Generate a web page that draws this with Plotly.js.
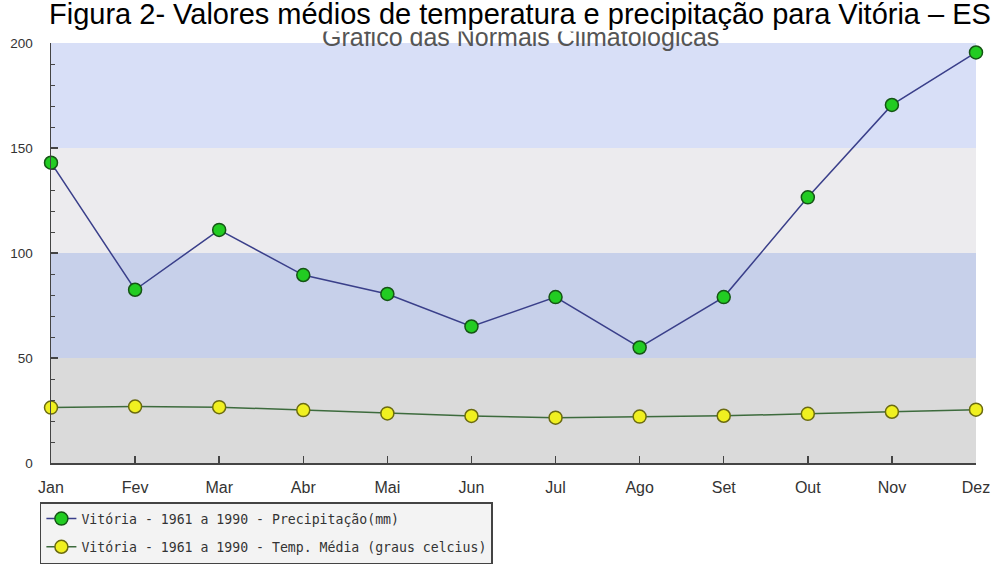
<!DOCTYPE html>
<html>
<head>
<meta charset="utf-8">
<script src="https://cdn.plot.ly/plotly-3.0.1.min.js"></script>
<style>html,body{margin:0;padding:0;background:#fff;}#chart{width:995px;height:565px;}</style>
</head>
<body>
<div id="chart"></div>
<script>
const months = ["Jan","Fev","Mar","Abr","Mai","Jun","Jul","Ago","Set","Out","Nov","Dez"];
const precipitacao = [143, 82.5, 111, 89.5, 80.5, 65, 79, 55, 79, 126.5, 170.5, 195.5];
const temperatura = [26.4, 26.9, 26.6, 25.2, 23.6, 22.4, 21.6, 22.1, 22.5, 23.4, 24.4, 25.4];
const seriesNames = [
  "Vitória - 1961 a 1990 - Precipitação(mm)",
  "Vitória - 1961 a 1990 - Temp. Média (graus celcius)"
];
const bandEdges = [0, 50, 100, 150, 200];
const bandColors = ["#dadada", "#c7d0ea", "#ecebee", "#d8dff7"];
const titleText = "Figura 2- Valores médios de temperatura e precipitação para Vitória – ES";
const subtitleText = "Gráfico das Normais Climatológicas";

const traces = [
  {
    x: months, y: precipitacao, type: "scatter", mode: "lines+markers",
    name: seriesNames[0], legendgroup: "a", cliponaxis: false,
    line: {color: "#3a3f8a", width: 1.5},
    marker: {symbol: "circle", size: 13, color: "#22cc22", line: {color: "#155515", width: 1.5}}
  },
  {
    x: months, y: temperatura, type: "scatter", mode: "lines+markers",
    name: seriesNames[1], legendgroup: "b", cliponaxis: false,
    line: {color: "#3d6b3d", width: 1.5},
    marker: {symbol: "circle", size: 13, color: "#f0f020", line: {color: "#6b6b10", width: 1.5}}
  }
];

const shapes = [];
for (let i = 0; i < bandColors.length; i++) {
  shapes.push({type: "rect", xref: "paper", yref: "y", x0: 0, x1: 1,
    y0: bandEdges[i], y1: bandEdges[i + 1], fillcolor: bandColors[i],
    line: {width: 0}, layer: "below"});
}

const layout = {
  width: 995, height: 565,
  margin: {l: 51, r: 19, t: 43, b: 102, pad: 0, autoexpand: false},
  paper_bgcolor: "#ffffff", plot_bgcolor: "rgba(0,0,0,0)",
  showlegend: true,
  font: {family: "Liberation Sans, Arial, sans-serif", color: "#333"},
  xaxis: {
    type: "category", range: [0, 11], showgrid: false, zeroline: false,
    showline: true, linecolor: "#444", linewidth: 1.5,
    ticks: "inside", ticklen: 7, tickcolor: "#444", tickwidth: 1.5,
    ticklabelstandoff: 9,
    tickfont: {size: 16, color: "#333"}, fixedrange: true, automargin: false
  },
  yaxis: {
    range: [0, 200], showgrid: false, zeroline: false,
    showline: true, linecolor: "#444", linewidth: 1.5,
    tickvals: [0, 50, 100, 150, 200],
    ticks: "inside", ticklen: 7, tickcolor: "#444", tickwidth: 1.5,
    ticklabelstandoff: 14,
    minor: {dtick: 10, ticks: "inside", ticklen: 4, tickcolor: "#444", tickwidth: 1},
    tickfont: {size: 13.5, color: "#333"}, fixedrange: true, automargin: false
  },
  shapes: shapes,
  legend: {
    x: -0.012, y: -0.0929, xanchor: "left", yanchor: "top",
    bgcolor: "#f3f3f3", bordercolor: "#444", borderwidth: 1.5,
    font: {family: "DejaVu Sans Mono, monospace", size: 13.2, color: "#333"},
    tracegroupgap: 8, itemwidth: 30
  },
  annotations: [
    {text: subtitleText, xref: "paper", yref: "paper", x: 0.5076, y: 1.014, yanchor: "middle", xanchor: "center",
     showarrow: false, font: {size: 25, color: "#555"}},
    {text: titleText, xref: "paper", yref: "paper", x: 0.5065, y: 1.069, yanchor: "middle", xanchor: "center",
     showarrow: false, bgcolor: "#ffffff", borderpad: 1,
     font: {size: 29, color: "#000"}}
  ]
};

Plotly.newPlot("chart", traces, layout, {displayModeBar: false, staticPlot: true});
</script>
</body>
</html>
